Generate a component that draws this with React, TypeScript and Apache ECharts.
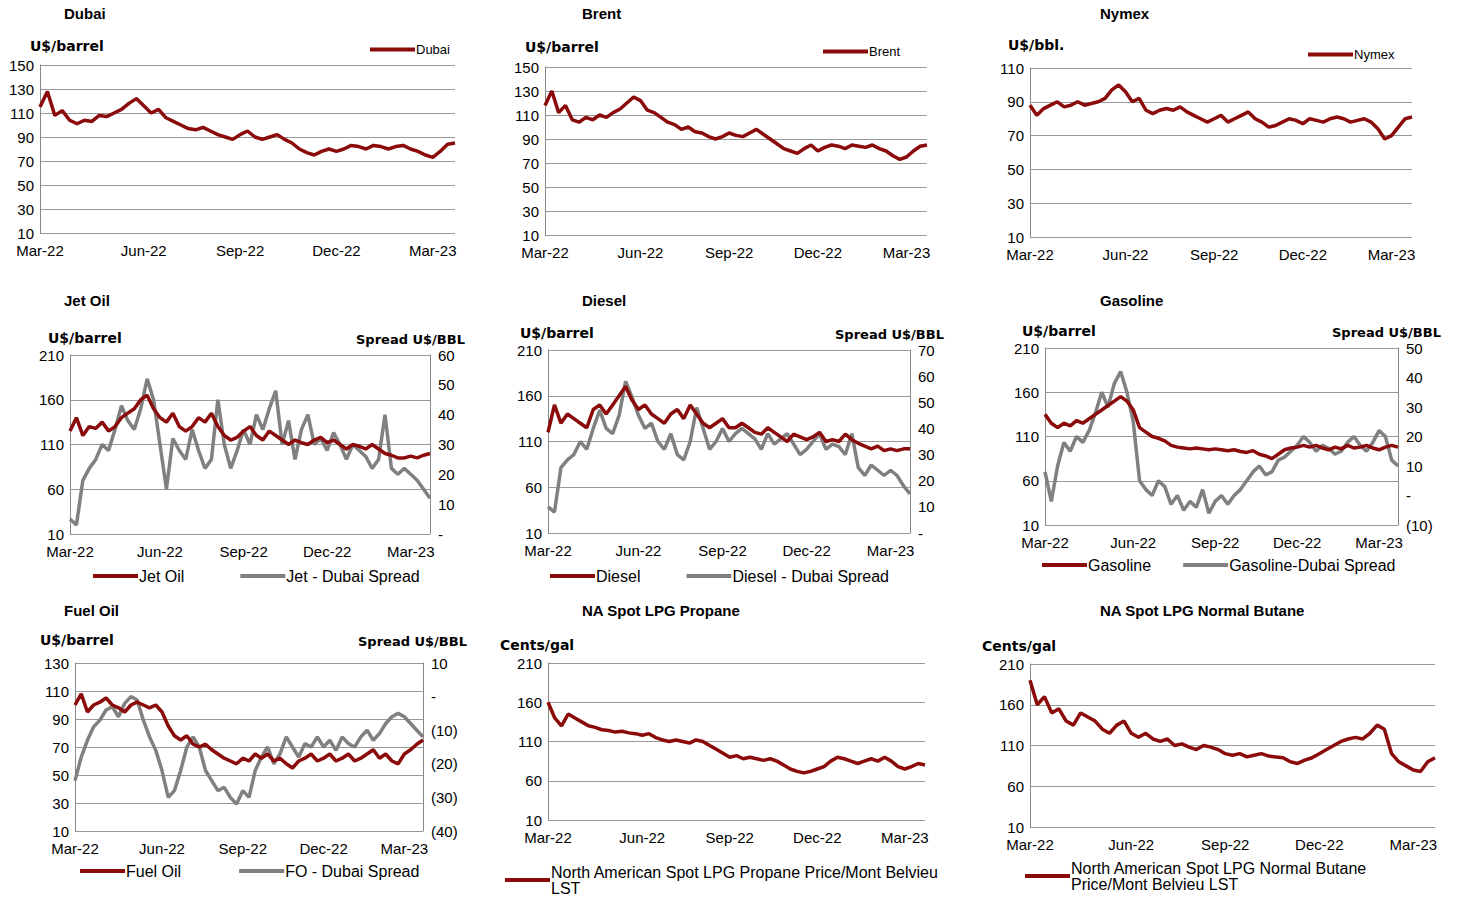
import { useEffect, useRef } from "react";
import * as echarts from "echarts";

const RED = "#8B0A0A";
const GREY = "#808080";
const FONT = "Liberation Sans, Arial, sans-serif";

// weekly values, Mar-22 .. early Apr-23
const dubai = [115,128,108,112,104,101,104,103,108,107,110,113,118,122,116,110,113,106,103,100,97,96,98,95,92,90,88,92,95,90,88,90,92,88,85,80,77,75,78,80,78,80,83,82,80,83,82,80,82,83,80,78,75,73,78,84,85];
const brent = [118,130,112,118,106,104,108,106,110,108,112,115,120,125,122,114,112,108,104,102,98,100,96,95,92,90,92,95,93,92,95,98,94,90,86,82,80,78,82,85,80,83,85,84,82,85,84,83,85,82,80,76,73,75,80,84,85];
const nymex = [88,82,86,88,90,87,88,90,88,89,90,92,97,100,96,90,92,85,83,85,86,85,87,84,82,80,78,80,82,78,80,82,84,80,78,75,76,78,80,79,77,80,79,78,80,81,80,78,79,80,78,74,68,70,75,80,81];
const jetOil = [125,140,120,130,128,135,125,130,140,145,150,160,165,150,140,135,145,130,125,130,140,135,145,130,120,115,118,125,130,120,115,125,120,115,110,115,112,110,115,118,112,115,110,105,110,108,105,110,105,100,98,95,95,97,95,98,100];
const jetSpread = [5,3,18,22,25,30,28,35,43,38,35,42,52,45,30,15,32,28,25,35,28,22,25,45,30,22,28,35,30,40,35,42,48,30,38,25,35,40,30,32,28,34,30,25,30,28,26,22,25,40,22,20,22,20,18,15,12];
const diesel = [120,150,130,140,135,130,125,145,150,140,150,160,170,155,145,150,140,135,130,140,145,135,150,140,130,125,130,135,125,125,130,125,120,118,125,120,115,110,118,115,112,115,120,110,112,110,118,112,108,105,102,105,100,102,100,102,102];
const dieselSpread = [10,8,25,28,30,35,32,40,47,40,38,45,58,52,45,40,42,35,32,38,30,28,35,48,40,32,35,40,35,38,40,38,36,32,38,34,36,38,34,30,32,35,38,32,34,33,30,38,25,22,26,24,22,24,22,18,15];
const gasoline = [135,125,120,125,122,128,125,130,135,140,145,150,155,150,140,120,115,110,108,105,100,98,97,96,97,96,95,96,95,94,95,93,92,94,90,88,85,90,95,97,98,100,98,100,97,95,98,96,100,97,98,100,97,95,98,100,98];
const gasSpread = [8,-2,10,18,15,20,18,22,28,35,30,38,42,35,25,5,2,0,5,3,-3,0,-5,-2,-4,2,-6,-2,0,-3,0,2,5,8,10,7,8,12,13,15,17,20,18,15,17,16,14,15,18,20,17,15,18,22,20,12,10];
const fuelOil = [100,108,95,100,102,105,100,98,95,100,102,100,98,100,95,85,78,75,78,72,70,72,68,65,62,60,58,62,60,65,62,65,60,62,58,55,60,62,65,60,62,65,60,62,65,60,62,65,68,62,65,60,58,65,68,72,75];
const foSpread = [-25,-18,-13,-9,-7,-4,-3,-6,-2,0,-1,-7,-12,-16,-22,-30,-28,-22,-15,-12,-15,-22,-25,-28,-27,-30,-32,-28,-30,-22,-18,-15,-20,-17,-12,-15,-18,-14,-15,-12,-15,-13,-16,-12,-14,-15,-12,-10,-13,-11,-8,-6,-5,-6,-8,-10,-12];
const propane = [160,140,130,145,140,135,130,128,125,124,122,123,121,120,118,120,115,112,110,112,110,108,112,110,105,100,95,90,92,88,90,88,86,88,85,80,75,72,70,72,75,78,85,90,88,85,82,85,88,85,90,85,78,75,78,82,80];
const butane = [190,160,170,150,155,140,135,150,145,140,130,125,135,140,125,120,125,118,115,118,110,112,108,105,110,108,105,100,98,100,96,98,100,97,96,95,90,88,92,95,100,105,110,115,118,120,118,125,135,130,100,90,85,80,78,90,95];

const MONTHS = ["Jan","Feb","Mar","Apr","May","Jun","Jul","Aug","Sep","Oct","Nov","Dec"];
const weeks = (n: number) => {
  const out: string[] = [];
  let prev = -1;
  for (let i = 0; i < n; i++) {
    const d = new Date(Date.UTC(2022, 2, 1 + 7 * i));
    const m = d.getUTCMonth();
    const lab = m !== prev && m % 3 === 2 ? `${MONTHS[m]}-${String(d.getUTCFullYear()).slice(2)}` : `w${i}`;
    out.push(lab);
    prev = m;
  }
  return out;
};

type S = { name: string; data: number[]; color: string; right?: boolean };
type Panel = {
  title: string; tx: number; ty: number;
  unit: string; ux: number; uy: number;
  runit?: string; rux?: number;
  grid: { left: number; top: number; width: number; height: number };
  lmin: number; lmax: number; lint: number;
  rmin?: number; rmax?: number; rint?: number;
  series: S[];
  legend: { left: number; top: number; gap?: number };
};

const panels: Panel[] = [
  { title: "Dubai", tx: 64, ty: 6, unit: "U$/barrel", ux: 30, uy: 39, grid: { left: 40, top: 65, width: 415, height: 168 }, lmin: 10, lmax: 150, lint: 20, series: [{ name: "Dubai", data: dubai, color: RED }], legend: { left: 365, top: 38 } },
  { title: "Brent", tx: 582, ty: 6, unit: "U$/barrel", ux: 525, uy: 40, grid: { left: 545, top: 67, width: 382, height: 168 }, lmin: 10, lmax: 150, lint: 20, series: [{ name: "Brent", data: brent, color: RED }], legend: { left: 818, top: 40 } },
  { title: "Nymex", tx: 1100, ty: 6, unit: "U$/bbl.", ux: 1008, uy: 38, grid: { left: 1030, top: 68, width: 382, height: 169 }, lmin: 10, lmax: 110, lint: 20, series: [{ name: "Nymex", data: nymex, color: RED }], legend: { left: 1303, top: 43 } },
  { title: "Jet Oil", tx: 64, ty: 293, unit: "U$/barrel", ux: 48, uy: 331, runit: "Spread U$/BBL", rux: 356, grid: { left: 70, top: 355, width: 360, height: 179 }, lmin: 10, lmax: 210, lint: 50, rmin: 0, rmax: 60, rint: 10, series: [{ name: "Jet Oil", data: jetOil, color: RED }, { name: "Jet - Dubai Spread", data: jetSpread, color: GREY, right: true }], legend: { left: 88, top: 563, gap: 56 } },
  { title: "Diesel", tx: 582, ty: 293, unit: "U$/barrel", ux: 520, uy: 326, runit: "Spread U$/BBL", rux: 835, grid: { left: 548, top: 350, width: 362, height: 183 }, lmin: 10, lmax: 210, lint: 50, rmin: 0, rmax: 70, rint: 10, series: [{ name: "Diesel", data: diesel, color: RED }, { name: "Diesel - Dubai Spread", data: dieselSpread, color: GREY, right: true }], legend: { left: 545, top: 563, gap: 46 } },
  { title: "Gasoline", tx: 1100, ty: 293, unit: "U$/barrel", ux: 1022, uy: 324, runit: "Spread U$/BBL", rux: 1332, grid: { left: 1045, top: 348, width: 353, height: 177 }, lmin: 10, lmax: 210, lint: 50, rmin: -10, rmax: 50, rint: 10, series: [{ name: "Gasoline", data: gasoline, color: RED }, { name: "Gasoline-Dubai Spread", data: gasSpread, color: GREY, right: true }], legend: { left: 1037, top: 552, gap: 32 } },
  { title: "Fuel Oil", tx: 64, ty: 603, unit: "U$/barrel", ux: 40, uy: 633, runit: "Spread U$/BBL", rux: 358, grid: { left: 75, top: 663, width: 348, height: 168 }, lmin: 10, lmax: 130, lint: 20, rmin: -40, rmax: 10, rint: 10, series: [{ name: "Fuel Oil", data: fuelOil, color: RED }, { name: "FO - Dubai Spread", data: foSpread, color: GREY, right: true }], legend: { left: 75, top: 858, gap: 58 } },
  { title: "NA Spot LPG Propane", tx: 582, ty: 603, unit: "Cents/gal", ux: 500, uy: 638, grid: { left: 548, top: 663, width: 377, height: 157 }, lmin: 10, lmax: 210, lint: 50, series: [{ name: "North American Spot LPG Propane Price/Mont Belvieu\nLST", data: propane, color: RED }], legend: { left: 500, top: 859 } },
  { title: "NA Spot LPG Normal Butane", tx: 1100, ty: 603, unit: "Cents/gal", ux: 982, uy: 639, grid: { left: 1030, top: 664, width: 405, height: 163 }, lmin: 10, lmax: 210, lint: 50, series: [{ name: "North American Spot LPG Normal Butane\nPrice/Mont Belvieu LST", data: butane, color: RED }], legend: { left: 1020, top: 855 } },
];

const axisText = { color: "#000", fontSize: 15, fontFamily: FONT };
const fmtRight = (v: number) => (v === 0 ? "-" : v < 0 ? `(${-v})` : String(v));

export default function App() {
  const ref = useRef<HTMLDivElement | null>(null);
  useEffect(() => {
    if (!ref.current) return;
    const chart = echarts.init(ref.current, null, { renderer: "svg" });
    const grid: any[] = [], xAxis: any[] = [], yAxis: any[] = [], series: any[] = [], legend: any[] = [], graphic: any[] = [];
    panels.forEach((p, gi) => {
      grid.push(p.grid);
      const n = Math.max(...p.series.map((s) => s.data.length));
      xAxis.push({
        type: "category", gridIndex: gi, data: weeks(n), boundaryGap: false,
        axisLine: { show: false }, axisTick: { show: false },
        axisLabel: { ...axisText, interval: (_i: number, v: string) => !v.startsWith("w"), margin: 10 },
      });
      const yl = yAxis.length;
      yAxis.push({
        type: "value", gridIndex: gi, min: p.lmin, max: p.lmax, interval: p.lint,
        axisLine: { show: true, lineStyle: { color: "#888" } }, axisTick: { show: false },
        splitLine: { lineStyle: { color: "#999", width: 1.2 } }, axisLabel: { ...axisText, margin: 6 },
      });
      let yr = -1;
      if (p.rmin !== undefined) {
        yr = yAxis.length;
        yAxis.push({
          type: "value", gridIndex: gi, position: "right", min: p.rmin, max: p.rmax, interval: p.rint,
          axisLine: { show: true, lineStyle: { color: "#888" } }, axisTick: { show: false }, splitLine: { show: false },
          axisLabel: { ...axisText, formatter: fmtRight, margin: 8 },
        });
      }
      p.series.forEach((s) => {
        series.push({
          type: "line", name: s.name, data: s.data, xAxisIndex: gi, yAxisIndex: s.right ? yr : yl,
          showSymbol: false, lineStyle: { color: s.color, width: 3.5 }, itemStyle: { color: s.color }, z: s.right ? 2 : 3,
        });
      });
      legend.push({
        data: p.series.map((s) => s.name), left: p.legend.left, top: p.legend.top, itemGap: p.legend.gap ?? 10,
        width: 500, icon: "rect", itemWidth: 45, itemHeight: 4, selectedMode: false,
        textStyle: { color: "#000", fontSize: p.series.length > 1 || gi >= 7 ? 16 : 13, fontFamily: FONT, padding: [0, 0, 0, -4] },
      });
      graphic.push({ type: "text", left: p.tx, top: p.ty, style: { text: p.title, font: `bold 15px ${FONT}`, fill: "#000" } });
      graphic.push({ type: "text", left: p.ux, top: p.uy, style: { text: p.unit, font: `bold 14px "DejaVu Sans", sans-serif`, fill: "#000" } });
      if (p.runit) graphic.push({ type: "text", left: p.rux, top: p.uy + 2, style: { text: p.runit, font: `bold 13px "DejaVu Sans", sans-serif`, fill: "#000" } });
    });
    chart.setOption({ animation: false, backgroundColor: "#fff", grid, xAxis, yAxis, series, legend, graphic });
    return () => chart.dispose();
  }, []);
  return <div ref={ref} style={{ position: "fixed", left: 0, top: 0, width: 1461, height: 899 }} />;
}
